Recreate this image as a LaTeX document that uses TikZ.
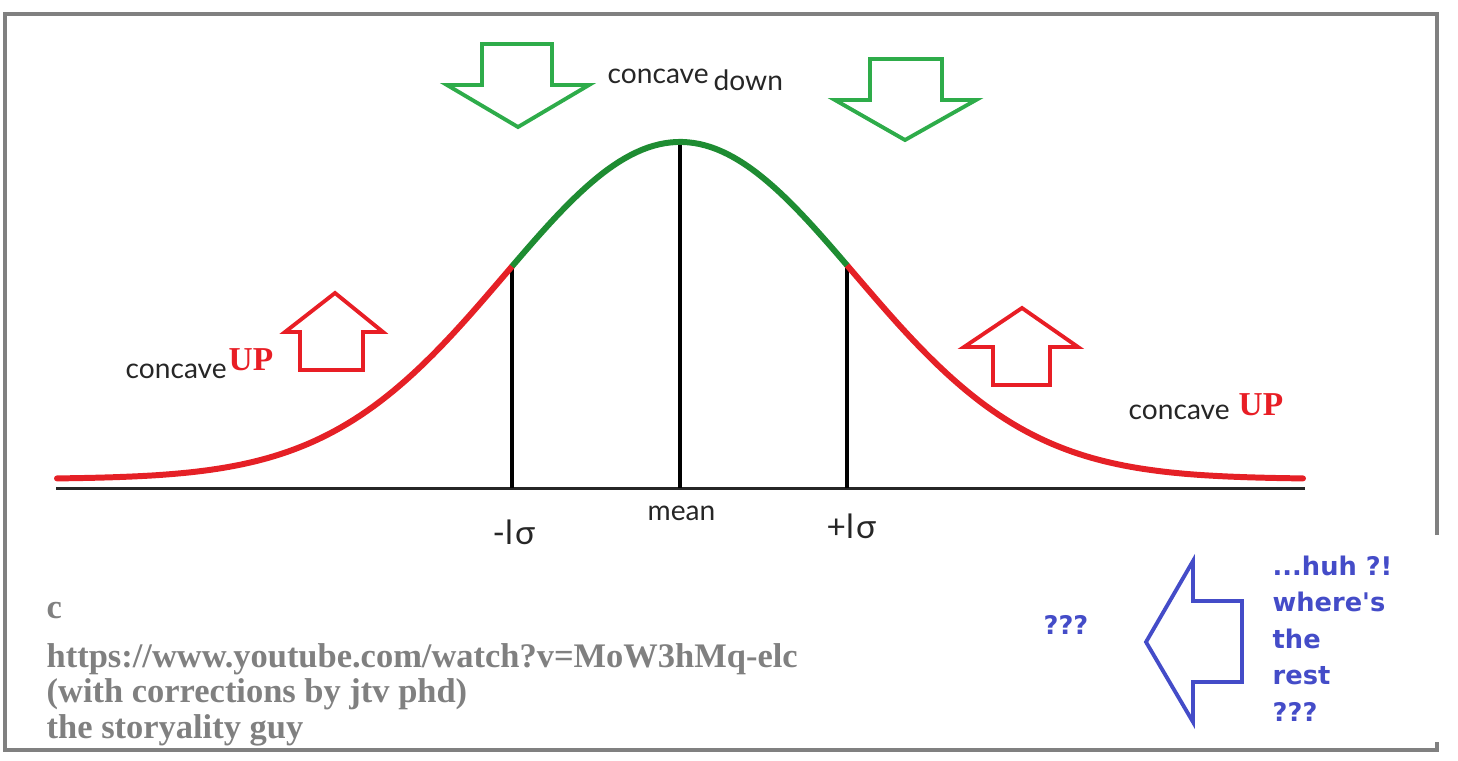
\documentclass[tikz,border=0pt]{standalone}
\usepackage{fontspec}
\newfontfamily\lblfont{Lato}
\newfontfamily\upfont{Liberation Serif}
\newfontfamily\huhfont{DejaVu Sans}
\usetikzlibrary{positioning}

\definecolor{curvered}{RGB}{229,32,38}
\definecolor{curvegreen}{RGB}{30,140,50}
\definecolor{arrowgreen}{RGB}{46,172,74}
\definecolor{arrowred}{RGB}{232,30,37}
\definecolor{huhblue}{RGB}{68,76,200}
\definecolor{framegray}{RGB}{128,128,128}

\begin{document}
\begin{tikzpicture}[
  x=0.01cm, y=-0.01cm,
  frame/.style={draw=framegray,line width=1.15pt},
  axisline/.style={draw,line width=0.85pt,black!85},
  sdline/.style={draw,line width=0.9pt},
  upcurve/.style={draw=curvered,line width=1.7pt,line cap=round},
  downcurve/.style={draw=curvegreen,line width=1.7pt},
  greenarrow/.style={draw=arrowgreen,line width=1.1pt},
  redarrow/.style={draw=arrowred,line width=1.1pt},
  bluearrow/.style={draw=huhblue,line width=1.1pt},
  lbl/.style={inner sep=0pt,anchor=base west,font=\lblfont\fontsize{8}{9}\selectfont,black!85},
  sd/.style={inner sep=0pt,anchor=base west,font=\lblfont\fontsize{9.5}{11}\selectfont,black!85},
  uptxt/.style={inner sep=0pt,anchor=base west,font=\upfont\bfseries\fontsize{9.5}{11}\selectfont,arrowred},
  note/.style={inner sep=0pt,anchor=base west,font=\upfont\bfseries\fontsize{9.8}{10.2}\selectfont,framegray},
  huh/.style={inner sep=0pt,anchor=base west,font=\huhfont\bfseries\fontsize{7.3}{10.4}\selectfont,huhblue}]

\useasboundingbox (0,0) rectangle (1458,760);

% --- gaussian: peak at mean, sigma in pixels ---
\def\MU{680}
\def\SIG{175}
\def\BASE{479}
\def\AMP{337}

% --- frame, open at the lower right ---
\draw[frame] (1437,535) -- (1437,14) -- (5,14) -- (5,750) -- (1437,750) -- (1437,742);

% --- horizontal axis and the three verticals ---
\coordinate (axl) at (56,488);
\coordinate (axr) at (1305,488);
\draw[axisline] (axl) -- (axr);
\coordinate (mlo) at (512,488);  \coordinate (mhi) at (512,266);
\coordinate (olo) at (680,488);  \coordinate (ohi) at (680,142);
\coordinate (plo) at (847,488);  \coordinate (phi) at (847,265);
\draw[sdline] (mlo) -- (mhi);
\draw[sdline] (olo) -- (ohi);
\draw[sdline] (plo) -- (phi);

% --- the bell curve: red tails, green cap between -1 and +1 sigma ---
\draw[upcurve] plot[domain=57:512,samples=70] (\x,{\BASE-\AMP*exp(-0.5*((\x-\MU)/\SIG)^2)});
\draw[upcurve] plot[domain=847:1303,samples=70] (\x,{\BASE-\AMP*exp(-0.5*((\x-\MU)/\SIG)^2)});
\draw[downcurve] plot[domain=512:847,samples=60] (\x,{\BASE-\AMP*exp(-0.5*((\x-\MU)/\SIG)^2)});

% --- axis labels ---
\node[lbl] (mean) at (647,520) {mean};
\node[sd] (msd) at (492,544) {-l\kern0.6pt σ};
\node[sd] (psd) at (826,538) {+l\kern0.6pt σ};

% --- green down arrows and concave down ---
\draw[greenarrow] (482,44) -- (552,44) -- (552,85) -- (589,85) -- (518,127)
  -- (447,85) -- (482,85) -- cycle;
\draw[greenarrow] (870,59) -- (942,59) -- (942,100) -- (976,100) -- (905,140)
  -- (835,100) -- (870,100) -- cycle;
\node[lbl] (cdown) at (607,83) {concave};
\node[lbl] (down) at (713,90) {down};

% --- red up arrows and concave UP ---
\draw[redarrow] (300,370) -- (363,370) -- (363,332) -- (383,332) -- (335,293)
  -- (285,332) -- (300,332) -- cycle;
\draw[redarrow] (993,385) -- (1050,385) -- (1050,347) -- (1078,347) -- (1022,308)
  -- (964,347) -- (993,347) -- cycle;
\node[lbl] (cupl) at (125,378) {concave};
\node[uptxt] (upl) at (228,370) {UP};
\node[lbl] (cupr) at (1128,419) {concave};
\node[uptxt] (upr) at (1238,415) {UP};

% --- source note ---
\node[note] (csign) at (46,618) {c};
\node[note] (src1) at (46,667) {https://www.youtube.com/watch?v=MoW3hMq-elc};
\node[note] (src2) at (46,702) {(with corrections by jtv phd)};
\node[note] (src3) at (46,738) {the storyality guy};

% --- blue arrow: where's the rest ---
\draw[bluearrow] (1242,601) -- (1242,682) -- (1193,682) -- (1193,722) -- (1146,642)
  -- (1193,561) -- (1193,601) -- cycle;
\node[huh] (qq) at (1043,634) {???};
\node[huh] (huh1) at (1272,575) {.{}.{}.huh ?!};
\foreach \t [count=\i from 2] in {where's, the, rest, ???}
  \node[huh] (huh\i) at (1272,{575+36.5*(\i-1)}) {\t};

\end{tikzpicture}
\end{document}
